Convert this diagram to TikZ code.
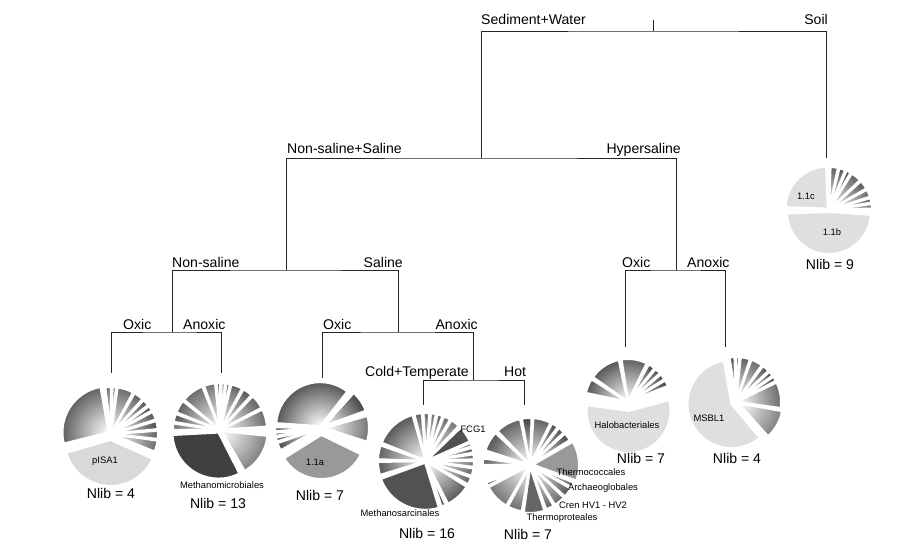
\documentclass[tikz,border=0pt]{standalone}
\usepackage{fontspec}
\setmainfont{Liberation Sans}
\tikzset{
  branch/.style={draw=black!85, line width=0.6pt},
  cut/.style={font=\fontsize{12}{14}\selectfont, inner sep=0pt},
  nlib/.style={font=\fontsize{12}{14}\selectfont, inner sep=0pt},
  taxon/.style={font=\fontsize{8}{9}\selectfont, inner sep=0pt},
  gap/.style={draw=white, line width=1.7pt, line join=round},
}
\newcommand{\pierad}{45}
% shaded slice: start, end, darkness at rim, pull-out
\newcommand{\gslice}[4]{%
  \pgfmathtruncatemacro{\dk}{#3*0.78}%
  \begin{scope}[shift={({(#1+#2)/2}:#4)}]
    \begin{scope}
      \clip (0,0) -- (#1:\pierad) arc[start angle=#1, end angle=#2, radius=\pierad] -- cycle;
      \shade[inner color=white, outer color=black!\dk] (0,0) circle[radius=\pierad];
    \end{scope}
    \draw[gap] (0,0) -- (#1:\pierad) arc[start angle=#1, end angle=#2, radius=\pierad] -- cycle;
  \end{scope}}
% flat slice: start, end, colour, pull-out
\newcommand{\sslice}[4]{%
  \begin{scope}[shift={({(#1+#2)/2}:#4)}]
    \filldraw[gap, fill=#3] (0,0) -- (#1:\pierad) arc[start angle=#1, end angle=#2, radius=\pierad] -- cycle;
  \end{scope}}
\begin{document}
\begin{tikzpicture}[x=0.03cm, y=0.03cm]
\useasboundingbox (0,0) rectangle (909,-554);

% splits and leaves
\coordinate (top) at (653,-20);
\coordinate (root) at (653,-31);
\coordinate (sw) at (481,-158);
\coordinate (soil) at (826,-158);
\coordinate (ns) at (286,-270);
\coordinate (hyp) at (676,-270);
\coordinate (nonsal) at (172,-332);
\coordinate (sal) at (398,-332);
\coordinate (anox) at (473,-380);
\coordinate (leaf1) at (111,-373);
\coordinate (leaf2) at (221,-373);
\coordinate (leaf3) at (322,-378);
\coordinate (leaf4) at (423,-405);
\coordinate (leaf5) at (524,-405);
\coordinate (leaf6) at (625,-347);
\coordinate (leaf7) at (725,-347);

\draw[branch] (top) -- (root);
\draw[branch] (sw) |- (root) -| (soil);
\draw[branch] (ns) |- (sw) -| (hyp);
\draw[branch] (nonsal) |- (ns) -| (sal);
\draw[branch] (leaf1) |- (nonsal) -| (leaf2);
\draw[branch] (leaf3) |- (sal) -| (anox);
\draw[branch] (leaf4) |- (anox) -| (leaf5);
\draw[branch] (leaf6) |- (hyp) -| (leaf7);

\node[cut, anchor=base west] (csw) at (481,-24) {Sediment+Water};
\node[cut, anchor=base east] (csoil) at (828,-24) {Soil};
\node[cut, anchor=base west] (cns) at (287,-153) {Non-saline+Saline};
\node[cut, anchor=base east] (chyp) at (681,-153) {Hypersaline};
\node[cut, anchor=base west] (cnonsal) at (172,-267) {Non-saline};
\node[cut, anchor=base east] (csal) at (403,-267) {Saline};
\node[cut, anchor=base west] (cox1) at (123,-329) {Oxic};
\node[cut, anchor=base west] (can1) at (183,-329) {Anoxic};
\node[cut, anchor=base west] (cox2) at (323,-329) {Oxic};
\node[cut, anchor=base east] (can2) at (478,-329) {Anoxic};
\node[cut, anchor=base east] (ccold) at (469,-376) {Cold+Temperate};
\node[cut, anchor=base west] (chot) at (504,-376) {Hot};
\node[cut, anchor=base west] (cox3) at (622,-267) {Oxic};
\node[cut, anchor=base west] (can3) at (687,-267) {Anoxic};

% pies
\coordinate (p1) at (111,-434);
\coordinate (p2) at (220,-430);
\coordinate (p3) at (321,-428);
\coordinate (p4) at (426,-461);
\coordinate (p5) at (530,-465);
\coordinate (p6) at (628,-402);
\coordinate (p7) at (736,-402);
\coordinate (p8) at (829,-210);

\begin{scope}[shift={(p1)}]
  \def\pierad{46}
  \sslice{196}{336}{gray!30}{6}
  \gslice{100}{194}{80}{3}
  \foreach \a/\b/\c in {90/97/70, 84/88/85, 62/82/75, 48/60/80, 38/46/85,
      30/36/90, 18/28/85, 6/16/90, -6/4/80, -22/-8/75}
    {\gslice{\a}{\b}{\c}{1}}
\end{scope}

\begin{scope}[shift={(p2)}]
  \def\pierad{46}
  \sslice{183}{297}{black!75}{3}
  \gslice{300}{354}{65}{2}
  \foreach \a/\b/\c in {4/26/75, 28/46/80, 48/60/85, 62/76/80, 78/82/90,
      84/88/60, 90/94/95, 96/110/70, 112/140/75, 142/158/80, 160/170/85, 172/180/70}
    {\gslice{\a}{\b}{\c}{1}}
\end{scope}

\begin{scope}[shift={(p3)}]
  \def\pierad{44}
  \sslice{212}{334}{gray!80}{7}
  \gslice{52}{176}{85}{2}
  \gslice{20}{48}{95}{4}
  \gslice{-18}{16}{70}{4}
  \foreach \a/\b/\c in {179/184/90, 186/190/95, 192/197/85, 199/209/90}
    {\gslice{\a}{\b}{\c}{2}}
\end{scope}

\begin{scope}[shift={(p4)}]
  \def\pierad{47}
  \sslice{200}{287}{black!68}{2}
  \sslice{24}{44}{black!68}{1}
  \foreach \a/\b/\c in {289/294/95, 297/328/85, 331/340/80, 342/351/75, 353/360/70,
      2/8/75, 10/16/80, 18/22/85, 47/58/70, 60/68/75, 70/76/80, 78/84/70,
      86/93/75, 95/104/80, 106/158/85, 161/178/80, 181/197/85}
    {\gslice{\a}{\b}{\c}{1}}
\end{scope}

\begin{scope}[shift={(p5)}]
  \def\pierad{46}
  \sslice{-20}{30}{gray!80}{3}
  \sslice{262}{288}{black!60}{2}
  \foreach \a/\b/\c in {32/42/90, 44/52/85, 54/62/90, 64/86/80, 88/100/95,
      102/134/80, 137/162/85, 172/180/80, 182/185/95, 187/190/95, 192/195/95,
      197/200/95, 202/206/95, 208/240/70, 242/260/75, 290/300/80, 302/316/75,
      318/330/85, 332/338/80}
    {\gslice{\a}{\b}{\c}{1}}
\end{scope}

\begin{scope}[shift={(p6)}]
  \def\pierad{42}
  \sslice{172}{375}{gray!25}{9}
  \foreach \a/\b/\c in {148/168/85, 102/145/85, 64/99/80, 52/61/90,
      42/50/85, 32/40/90, 22/30/95}
    {\gslice{\a}{\b}{\c}{1}}
\end{scope}

\begin{scope}[shift={(p7)}]
  \def\pierad{44}
  \sslice{100}{310}{gray!25}{5}
  \foreach \a/\b/\c in {92/98/95, 86/90/95, 72/84/80, 55/70/75, 44/53/85,
      36/42/90, 28/34/90, -8/26/75}
    {\gslice{\a}{\b}{\c}{1}}
  \gslice{-48}{-10}{65}{3}
\end{scope}

\begin{scope}[shift={(p8)}]
  \def\pierad{42}
  \sslice{92}{178}{gray!25}{2}
  \sslice{182}{356}{gray!25}{2}
  \foreach \a/\b/\c in {78/88/80, 68/76/85, 60/66/90, 44/58/80, 30/42/85,
      18/28/75, 10/16/80, 2/8/70}
    {\gslice{\a}{\b}{\c}{1}}
\end{scope}

% pie labels
\node[taxon] (tpisa) at (105,-461) {pISA1};
\node[taxon] (tmmic) at (222,-485) {Methanomicrobiales};
\node[taxon] (tonea) at (315,-462) {1.1a};
\node[taxon] (tfcg) at (473,-429) {FCG1};
\node[taxon] (tmsar) at (400,-513) {Methanosarcinales};
\node[taxon] (ttcoc) at (591,-472) {Thermococcales};
\node[taxon] (tarch) at (603,-488) {Archaeoglobales};
\node[taxon] (tcren) at (593,-505) {Cren HV1 - HV2};
\node[taxon] (ttpro) at (562,-518) {Thermoproteales};
\node[taxon] (thalo) at (627,-425) {Halobacteriales};
\node[taxon] (tmsbl) at (709,-418) {MSBL1};
\node[taxon] (tonec) at (806,-196) {1.1c};
\node[taxon] (toneb) at (832,-232) {1.1b};

\node[nlib] (n1) at (111,-493) {Nlib = 4};
\node[nlib] (n2) at (218,-503) {Nlib = 13};
\node[nlib] (n3) at (320,-495) {Nlib = 7};
\node[nlib] (n4) at (427,-533) {Nlib = 16};
\node[nlib] (n5) at (528,-534) {Nlib = 7};
\node[nlib] (n6) at (641,-458) {Nlib = 7};
\node[nlib] (n7) at (737,-458) {Nlib = 4};
\node[nlib] (n8) at (830,-264) {Nlib = 9};
\end{tikzpicture}
\end{document}
